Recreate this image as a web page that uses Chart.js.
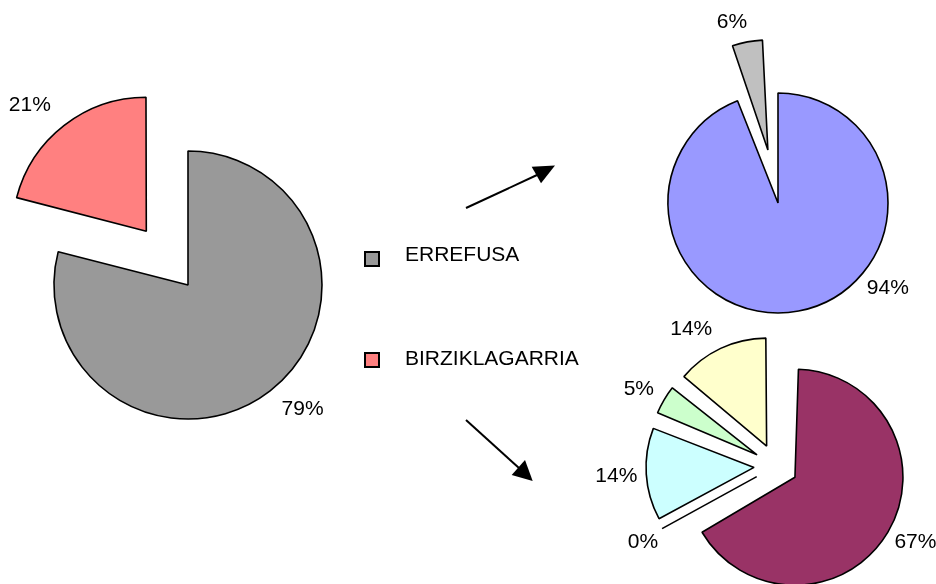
<!DOCTYPE html>
<html><head><meta charset="utf-8">
<script src="https://cdn.jsdelivr.net/npm/chart.js@4.4.1/dist/chart.umd.min.js"></script>
<style>
html,body{margin:0;padding:0;background:#fff;}
#wrap{position:relative;width:936px;height:584px;overflow:hidden;font-family:Arial,"Liberation Sans",sans-serif;}
canvas{position:absolute;left:0;top:0;}
.leg{position:absolute;font-size:21px;line-height:21px;color:#000;white-space:nowrap;}
.sw{position:absolute;width:16px;height:16px;box-sizing:border-box;border:2px solid #000;}
svg{position:absolute;left:0;top:0;}
</style></head><body>
<div id="wrap">
  <canvas id="cMain" width="936" height="584"></canvas>
  <canvas id="cUpper" width="936" height="584"></canvas>
  <canvas id="cLower" width="936" height="584"></canvas>
  <svg width="936" height="584">
    <line x1="466" y1="208" x2="537" y2="175" stroke="#000" stroke-width="2"/>
    <polygon points="555,165.5 531.7,166.7 541,183.3" fill="#000"/>
    <line x1="466" y1="420" x2="519" y2="468" stroke="#000" stroke-width="2"/>
    <polygon points="532.7,481 511.7,475 525,460" fill="#000"/>
  </svg>
  <div id="legend"></div>
</div>
<script>
// ---- data ----
const mainCategories = ['ERREFUSA', 'BIRZIKLAGARRIA'];
const mainValues = [79, 21];
const upperValues = [94, 6];
const lowerValues = [67, 0, 14, 5, 14];

// ---- styles ----
const mainColors = ['#999999', '#FF8080'];
const upperColors = ['#9999FF', '#C0C0C0'];
const lowerColors = ['#993366', '#FFFFFF', '#CCFFFF', '#CCFFCC', '#FFFFCC'];

const FONT = '21px Arial, "Liberation Sans", sans-serif';

const pieExtras = {
  id: 'pieExtras',
  beforeDatasetDraw(chart, args) {
    const meta = args.meta, ctrl = meta.controller;
    meta.data.forEach(arc => {
      const off = (arc.options.offset || 0) / 4;
      const fix = 1 - Math.sin(Math.min(Math.PI, arc.circumference || 0));
      arc.outerRadius = ctrl.outerRadius - off * fix;
    });
  },
  afterDatasetsDraw(chart, args, opts) {
    const ctx = chart.ctx;
    const meta = chart.getDatasetMeta(0);
    const ds = chart.data.datasets[0];
    const R0 = meta.controller.outerRadius;
    ctx.save();
    // zero-size slices drawn as a radius line
    meta.data.forEach(arc => {
      if (arc.circumference === 0) {
        const t = (arc.options.offset || 0) / 4;
        const a = arc.startAngle;
        ctx.beginPath();
        ctx.strokeStyle = '#000';
        ctx.lineWidth = arc.options.borderWidth;
        ctx.moveTo(arc.x + Math.cos(a) * t, arc.y + Math.sin(a) * t);
        ctx.lineTo(arc.x + Math.cos(a) * (t + R0), arc.y + Math.sin(a) * (t + R0));
        ctx.stroke();
      }
    });
    ctx.font = FONT;
    ctx.fillStyle = '#000';
    ctx.textAlign = 'center';
    ctx.textBaseline = 'middle';
    meta.data.forEach((arc, i) => {
      const t = (arc.options.offset || 0) / 4;
      const mid = (arc.startAngle + arc.endAngle) / 2;
      let ang = mid;
      if (opts.angles && opts.angles[i] != null) ang = opts.angles[i] * Math.PI / 180 - Math.PI / 2;
      const dx = Math.cos(ang), dy = Math.sin(ang);
      const bx = arc.x + Math.cos(mid) * t, by = arc.y + Math.sin(mid) * t;
      const gap = (opts.gaps && opts.gaps[i] != null) ? opts.gaps[i] : 14;
      const R = R0 + gap;
      const text = ds.data[i] + '%';
      const w = ctx.measureText(text).width, h = 16;
      ctx.fillText(text, bx + dx * R + dx * w / 2, by + dy * R + dy * h / 2);
    });
    ctx.restore();
  }
};

function makePie(id, labels, values, colors, explode, cx, cy, radius, labelOpts) {
  const W = 936, H = 584;
  const pad = {
    left: cx > W / 2 ? 2 * cx - W : 0,
    right: cx > W / 2 ? 0 : W - 2 * cx,
    top: cy > H / 2 ? 2 * cy - H : 0,
    bottom: cy > H / 2 ? 0 : H - 2 * cy
  };
  return new Chart(document.getElementById(id), {
    type: 'pie',
    data: {
      labels: labels,
      datasets: [{
        data: values,
        backgroundColor: colors,
        borderColor: '#000',
        borderWidth: 1.6,
        offset: explode.map(e => e * 4),
        clip: false
      }]
    },
    options: {
      responsive: false,
      animation: false,
      events: [],
      devicePixelRatio: 1,
      radius: radius,
      layout: { padding: pad },
      plugins: {
        legend: { display: false },
        tooltip: { enabled: false },
        pieExtras: labelOpts || {}
      }
    },
    plugins: [pieExtras]
  });
}

makePie('cMain', mainCategories, mainValues, mainColors, [0, 68], 188, 285, 134,
  { angles: [139.4, 319.4], gaps: [21, 24] });
makePie('cUpper', upperValues.map(v => v + '%'), upperValues, upperColors, [0, 54], 778, 203, 110,
  { angles: [130.3, 345.1], gaps: [13, 14.5] });
makePie('cLower', lowerValues.map(v => v + '%'), lowerValues, lowerColors, [22, 22, 22, 22, 22], 776, 466, 108,
  { angles: [120.6, 238.6, 266.1, 300.5, 329.6], gaps: [11, 10, 9, 14, 20] });

// legend for the main pie
const legend = document.getElementById('legend');
const legTops = [243, 347];
const swTops = [251, 352];
mainCategories.forEach((name, i) => {
  const sw = document.createElement('div');
  sw.className = 'sw';
  sw.style.left = '364px';
  sw.style.top = swTops[i] + 'px';
  sw.style.background = mainColors[i];
  legend.appendChild(sw);
  const tx = document.createElement('div');
  tx.className = 'leg';
  tx.style.left = '405px';
  tx.style.top = legTops[i] + 'px';
  tx.textContent = name;
  legend.appendChild(tx);
});
</script>
</body></html>
